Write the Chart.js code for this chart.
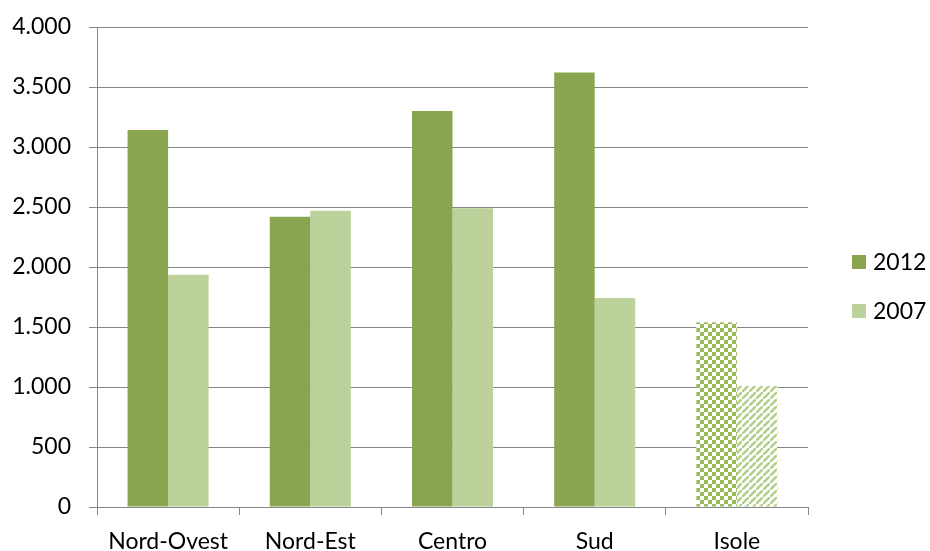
<!DOCTYPE html>
<html lang="it">
<head>
    <meta charset="UTF-8">
    <title>2012 e 2007 per ripartizione</title>
    <script src="https://cdn.jsdelivr.net/npm/chart.js"></script>
    <style>
        html, body {
            margin: 0;
            padding: 0;
            background: #ffffff;
        }
        canvas {
            display: block;
        }
    </style>
</head>
<body>
    <canvas id="chart" width="930" height="551"></canvas>

    <script>
        // data
        const categories = ['Nord-Ovest', 'Nord-Est', 'Centro', 'Sud', 'Isole'];
        const values2012 = [3142, 2419, 3300, 3620, 1540];
        const values2007 = [1936, 2469, 2490, 1742, 1008];
        const yTickLabels = ['0', '500', '1.000', '1.500', '2.000', '2.500', '3.000', '3.500', '4.000'];

        const darkGreen = '#8aa54f';
        const lightGreen = '#bcd29a';
        const fontFamily = 'Lato, "Open Sans", sans-serif';

        const canvas = document.getElementById('chart');
        const ctx = canvas.getContext('2d');

        // small repeating tiles for the "Isole" bars
        function checkerPattern(color) {
            const tile = document.createElement('canvas');
            tile.width = 8;
            tile.height = 8;
            const g = tile.getContext('2d');
            g.fillStyle = '#ffffff';
            g.fillRect(0, 0, 8, 8);
            g.fillStyle = color;
            g.fillRect(0, 0, 4, 4);
            g.fillRect(4, 4, 4, 4);
            return ctx.createPattern(tile, 'repeat');
        }

        function stripePattern(color) {
            const s = 7;
            const tile = document.createElement('canvas');
            tile.width = s;
            tile.height = s;
            const g = tile.getContext('2d');
            g.fillStyle = '#ffffff';
            g.fillRect(0, 0, s, s);
            g.strokeStyle = color;
            g.lineWidth = 2.5;
            g.beginPath();
            g.moveTo(-1, s + 1); g.lineTo(s + 1, -1);
            g.moveTo(-s - 1, 1); g.lineTo(1, -s - 1);
            g.moveTo(s - 1, 2 * s + 1); g.lineTo(2 * s + 1, s - 1);
            g.stroke();
            return ctx.createPattern(tile, 'repeat');
        }

        const fill2012 = categories.map((c, i) => i === categories.length - 1 ? checkerPattern('#98bb58') : darkGreen);
        const fill2007 = categories.map((c, i) => i === categories.length - 1 ? stripePattern('#b3cf89') : lightGreen);

        // legend on the right, drawn like the spreadsheet one
        const sideLegend = {
            id: 'sideLegend',
            afterDraw(chart) {
                const c = chart.ctx;
                const x = chart.chartArea.right + 44;
                c.save();
                c.font = '23px ' + fontFamily;
                c.textBaseline = 'middle';
                chart.data.datasets.forEach((ds, i) => {
                    const y = 262 + i * 49;
                    c.fillStyle = ds.legendColor;
                    c.fillRect(x, y - 7, 14, 14);
                    c.fillStyle = '#000000';
                    c.fillText(ds.label, x + 21, y + 1);
                });
                c.restore();
            }
        };

        new Chart(ctx, {
            type: 'bar',
            data: {
                labels: categories,
                datasets: [
                    {
                        label: '2012',
                        data: values2012,
                        backgroundColor: fill2012,
                        legendColor: darkGreen,
                        borderWidth: 0
                    },
                    {
                        label: '2007',
                        data: values2007,
                        backgroundColor: fill2007,
                        legendColor: lightGreen,
                        borderWidth: 0
                    }
                ]
            },
            options: {
                responsive: false,
                animation: false,
                layout: { padding: { top: 27, right: 122, bottom: 0, left: 0 } },
                datasets: {
                    bar: { categoryPercentage: 0.57, barPercentage: 1.0 }
                },
                plugins: {
                    legend: { display: false },
                    tooltip: { enabled: false }
                },
                scales: {
                    x: {
                        grid: {
                            display: true,
                            drawOnChartArea: false,
                            drawTicks: true,
                            tickLength: 8,
                            color: '#868686',
                            offset: true
                        },
                        border: { display: true, color: '#868686', width: 1 },
                        ticks: {
                            color: '#000000',
                            font: { family: fontFamily, size: 23 },
                            padding: 13,
                            maxRotation: 0,
                            autoSkip: false
                        },
                        afterFit: scale => { scale.height = 44; }
                    },
                    y: {
                        min: 0,
                        max: 4000,
                        ticks: {
                            stepSize: 500,
                            color: '#000000',
                            font: { family: fontFamily, size: 23 },
                            padding: 18,
                            callback: (value, index) => yTickLabels[index]
                        },
                        grid: { color: '#868686', tickLength: 8, lineWidth: 1 },
                        border: { display: true, color: '#868686', width: 1 },
                        afterFit: scale => {
                            scale.width = 97;
                            scale.paddingTop = 0;
                            scale.paddingBottom = 0;
                        }
                    }
                }
            },
            plugins: [sideLegend]
        });
    </script>
</body>
</html>
